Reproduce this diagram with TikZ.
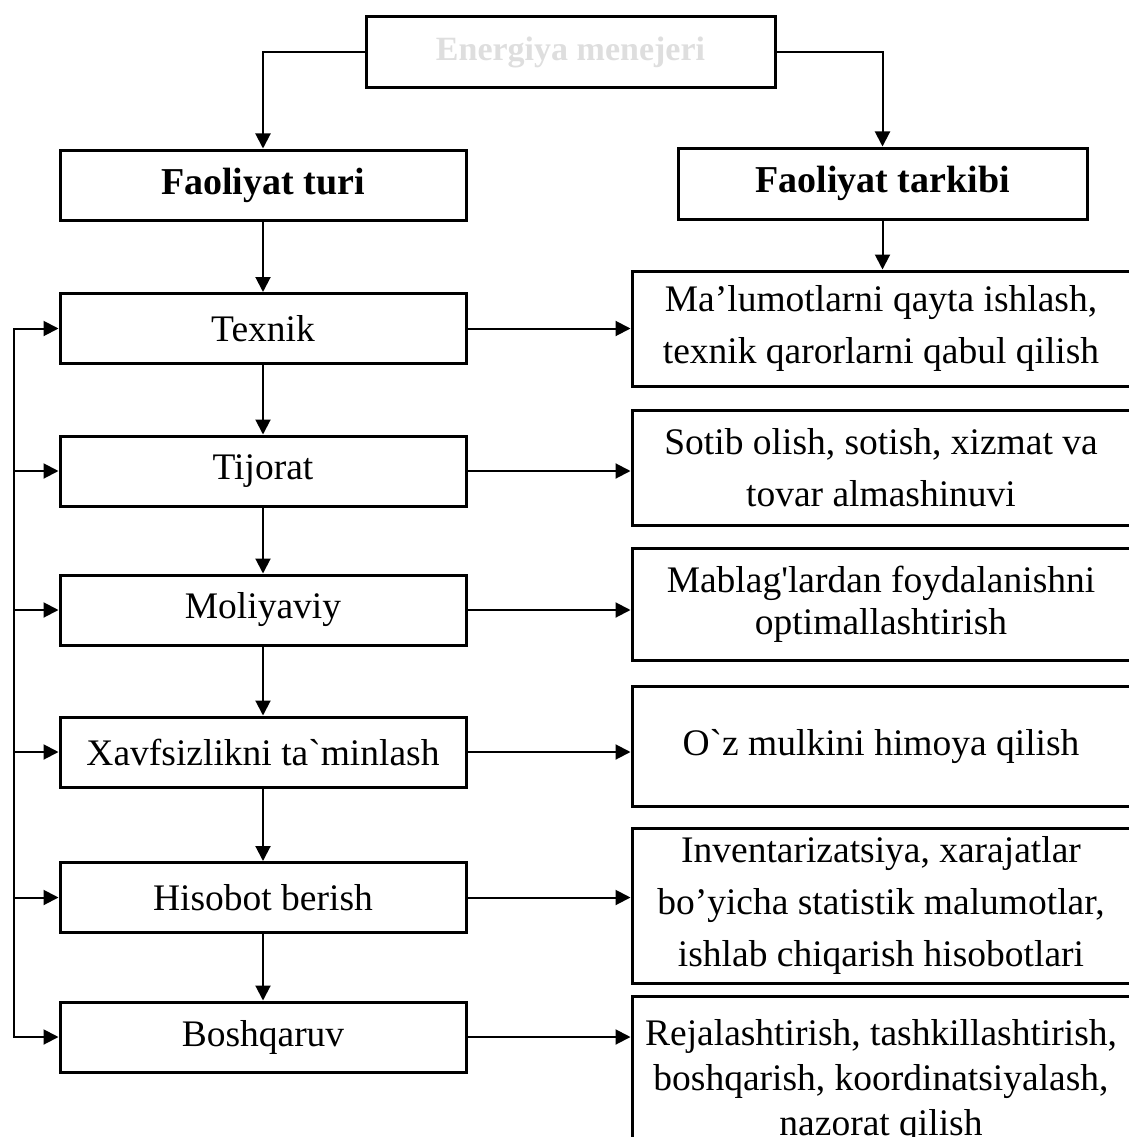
\documentclass[tikz,border=0pt]{standalone}
\usepackage{fontspec}
\setmainfont{Liberation Serif}[Ligatures=TeXOff]
\usetikzlibrary{arrows.meta}
\definecolor{faint}{gray}{0.87}

\begin{document}
\begin{tikzpicture}[x=1pt,y=-1pt,
  box/.style={draw,line width=3pt,inner sep=0pt,align=center,
    font=\fontsize{37.5}{52}\selectfont},
  headbox/.style={box,font=\fontsize{38}{44}\bfseries\selectfont},
  kind/.style={box,minimum width=406,minimum height=70},
  content/.style={box,minimum width=498},
  link/.style={line width=2pt,-{Triangle[length=15pt,width=15pt]}}]

\useasboundingbox (0,0) rectangle (1128,1137);

% title
\node[box,minimum width=409,minimum height=71,text=faint,
  font=\fontsize{34}{40}\bfseries\selectfont] (top) at (570.5,52.5) {Energiya menejeri};

% column headers
\node[headbox,minimum width=406,minimum height=70] (turi) at (263,185) {Faoliyat turi};
\node[headbox,minimum width=409,minimum height=71] (tarkibi) at (882.5,183.5) {Faoliyat tarkibi};

% kinds of activity
\node[kind] (texnik) at (263,328.5) {Texnik};
\node[kind] (tijorat) at (263,471) {Tijorat};
\node[kind] (moliya) at (263,610) {Moliyaviy};
\node[kind] (xavf) at (263,752) {Xavfsizlikni ta`minlash};
\node[kind] (hisobot) at (263,897.5) {Hisobot berish};
\node[kind] (boshq) at (263,1037) {Boshqaruv};

% contents of activity
\node[content,minimum height=115] (r1) at (881,328.5)
  {Ma’lumotlarni qayta ishlash,\\texnik qarorlarni qabul qilish};
\node[content,minimum height=115] (r2) at (881,467.5)
  {Sotib olish, sotish, xizmat va\\tovar almashinuvi};
\node[content,minimum height=112,font=\fontsize{37.5}{42}\selectfont] (r3) at (881,604)
  {Mablag'lardan foydalanishni\\optimallashtirish};
\node[content,minimum height=120] (r4) at (881,746)
  {O`z mulkini himoya qilish};
\node[content,minimum height=155] (r5) at (881,905.5)
  {Inventarizatsiya, xarajatlar\\bo’yicha statistik malumotlar,\\ishlab chiqarish hisobotlari};
\node[content,minimum height=170,font=\fontsize{37.5}{45}\selectfont] (r6) at (881,1081)
  {Rejalashtirish, tashkillashtirish,\\boshqarish, koordinatsiyalash,\\nazorat qilish};

% connectors from the title
\draw[link] (top.west) -| (turi.north);
\draw[link] (top.east) -| (tarkibi.north);
\draw[link] (tarkibi.south) -- (tarkibi.south |- r1.north);

% vertical chain
\draw[link] (turi.south) -- (texnik.north);
\draw[link] (texnik.south) -- (tijorat.north);
\draw[link] (tijorat.south) -- (moliya.north);
\draw[link] (moliya.south) -- (xavf.north);
\draw[link] (xavf.south) -- (hisobot.north);
\draw[link] (hisobot.south) -- (boshq.north);

% kind -> content
\draw[link] (texnik.east) -- (texnik.east -| r1.west);
\draw[link] (tijorat.east) -- (tijorat.east -| r2.west);
\draw[link] (moliya.east) -- (moliya.east -| r3.west);
\draw[link] (xavf.east) -- (xavf.east -| r4.west);
\draw[link] (hisobot.east) -- (hisobot.east -| r5.west);
\draw[link] (boshq.east) -- (boshq.east -| r6.west);

% feedback bus on the left
\coordinate (bus) at (14,0);
\draw[line width=2pt,line cap=rect] (texnik.west -| bus) -- (boshq.west -| bus);
\foreach \n in {texnik,tijorat,moliya,xavf,hisobot,boshq}
  \draw[link] (\n.west -| bus) -- (\n.west);
\end{tikzpicture}
\end{document}
